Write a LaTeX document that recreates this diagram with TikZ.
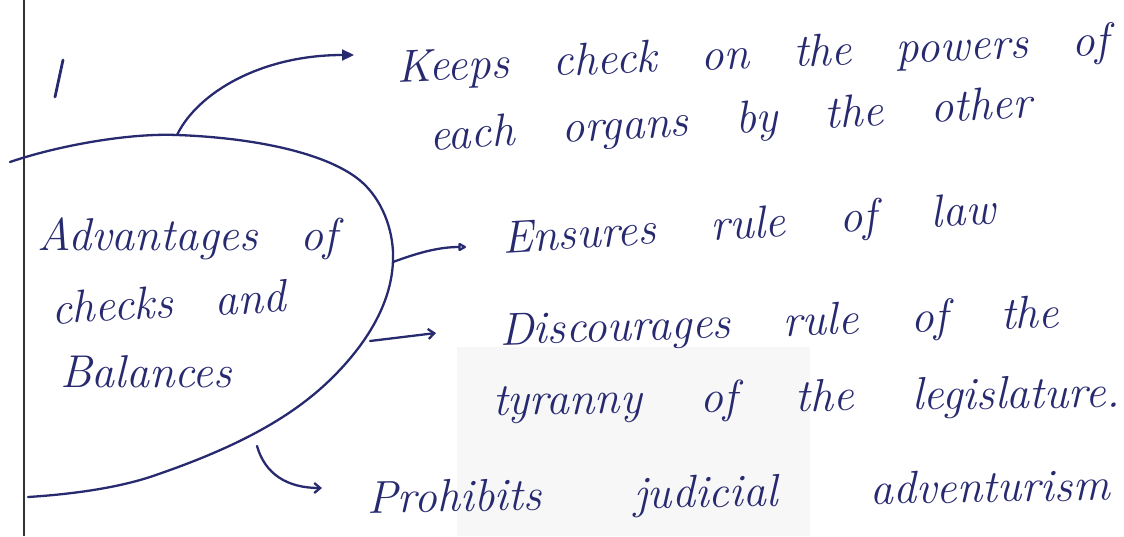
\documentclass[tikz,border=0pt]{standalone}
\usetikzlibrary{arrows.meta}
\definecolor{ink}{RGB}{40,42,112}
\tikzset{
  hw/.style={text=ink, font=\fontsize{46}{52}\selectfont\itshape, anchor=base west, inner sep=0pt, outer sep=0pt},
  pen/.style={draw=ink, line width=2.3pt, line cap=round, line join=round},
}
\begin{document}
\begin{tikzpicture}[x=1pt,y=-1pt]
\useasboundingbox (0,0) rectangle (1124,536);
% watermark
\fill[black!3] (457,347) rectangle (810,536);
% margin line
\draw[black!80, line width=1.5pt] (24,0) -- (24,536);
% item number mark
\draw[pen, line width=2.8pt] (63,60) -- (55,97);
% blob
\draw[pen] (10,162) .. controls (60,145) and (130,133) .. (177,135)
  .. controls (260,138) and (335,155) .. (365,185)
  .. controls (385,205) and (394,235) .. (393,260)
  .. controls (392,300) and (370,340) .. (333,377)
  .. controls (290,420) and (230,450) .. (150,477)
  .. controls (110,490) and (60,495) .. (28,497);
% attachment points on blob
\coordinate (b1) at (177,135);
\coordinate (b2) at (393,262);
\coordinate (b3) at (370,341);
\coordinate (b4) at (257,446);
% arrow tips
\coordinate (t1) at (354,55);
\coordinate (t2) at (466,247);
\coordinate (t3) at (436,333);
\coordinate (t4) at (322,488);
% texts
\node[hw] (adv1) at (37,250) {\makebox[300pt][s]{Advantages of}};
\node[hw, rotate=3] (adv2) at (52,324) {\makebox[235pt][s]{checks and}};
\node[hw] (adv3) at (60,387) {Balances};
\node[hw, rotate=2.2] (k1) at (397,82) {\makebox[713pt][s]{Keeps check on the powers of}};
\node[hw, rotate=3.1] (k2) at (430,150) {\makebox[603pt][s]{each organs by the other}};
\node[hw, rotate=3.4] (e1) at (503,253) {\makebox[494pt][s]{Ensures rule of law}};
\node[hw, rotate=1.8] (d1) at (500,345) {\makebox[560pt][s]{Discourages rule of the}};
\node[hw, rotate=0.7] (d2) at (493,415) {\makebox[627pt][s]{tyranny of the legislature.}};
\node[hw, rotate=1] (p1) at (367,513) {\makebox[743pt][s]{Prohibits judicial adventurism}};
% arrows
\draw[pen, -{Triangle[length=12pt,width=11pt]}] (b1) .. controls (198,92) and (262,55) .. (t1);
\draw[pen, -{Triangle[open,round,length=9pt,width=9pt]}] (b2) .. controls (420,252) and (440,247) .. (t2);
\draw[pen, -{Straight Barb[length=6pt,width=10pt]}] (b3) -- (t3);
\draw[pen, -{Straight Barb[length=6pt,width=10pt]}] (b4) .. controls (265,474) and (287,488) .. (t4);
\end{tikzpicture}
\end{document}
